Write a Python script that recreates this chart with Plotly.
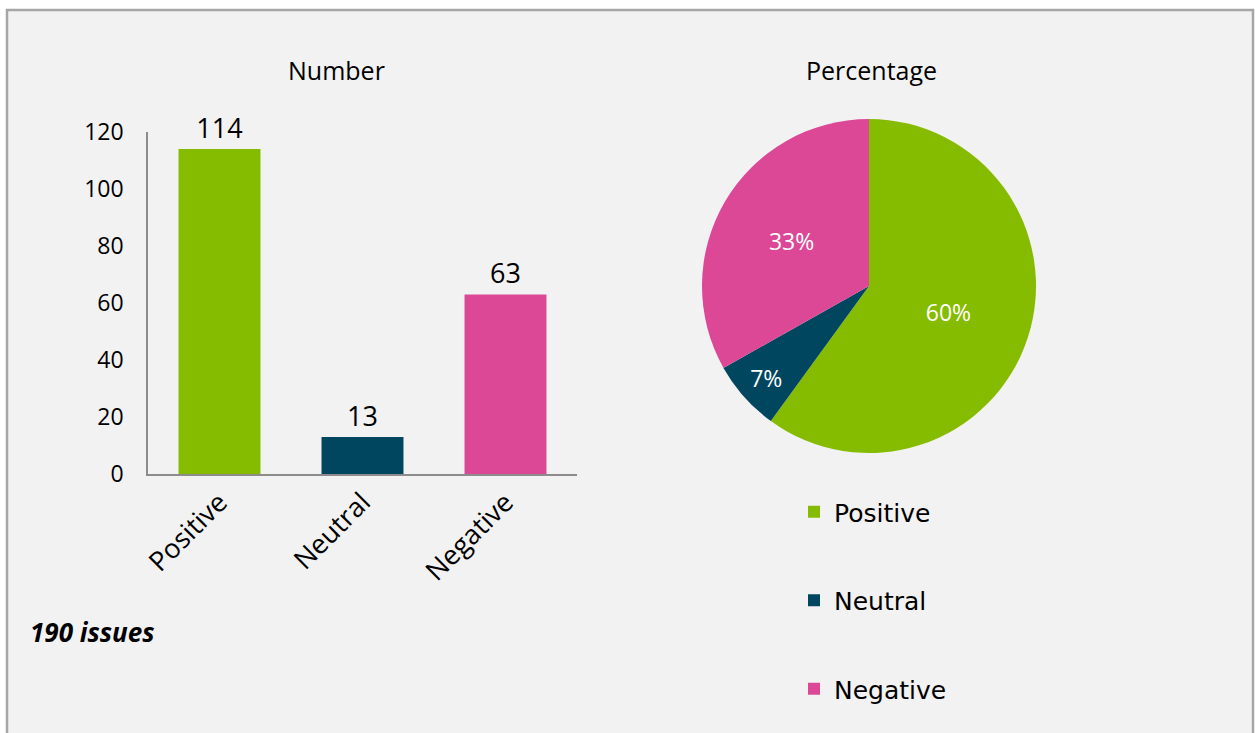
import plotly.graph_objects as go

categories = ["Positive", "Neutral", "Negative"]
counts = [114, 13, 63]
colors = ["#86BC00", "#00465F", "#DC4896"]
y_ticks = [0, 20, 40, 60, 80, 100, 120]
total_label = "190 issues"

W, H = 1255, 733
def px(x):
    return x / W
def py(y):
    return 1 - y / H

fig = go.Figure()

for cat, val, col in zip(categories, counts, colors):
    fig.add_trace(go.Bar(
        x=[cat], y=[val], name=cat, marker=dict(color=col, line=dict(width=0)),
        text=[str(val)], textposition="outside", cliponaxis=False,
        textfont=dict(family="Open Sans", size=27, color="#000000"),
        legendgroup=cat, showlegend=True, width=0.573,
        xaxis="x", yaxis="y",
    ))

fig.add_trace(go.Pie(
    labels=categories, values=counts, marker=dict(colors=colors, line=dict(width=0)),
    sort=False, direction="clockwise", rotation=0,
    texttemplate="%{percent:.0%}", textposition="inside", insidetextorientation="horizontal",
    textfont=dict(family="Open Sans", size=23, color="#FFFFFF"),
    showlegend=False, hoverinfo="label+value+percent",
    domain=dict(x=[px(702), px(1036)], y=[py(453), py(119)]),
))

fig.update_layout(
    width=W, height=H,
    margin=dict(l=0, r=0, t=0, b=0, autoexpand=False),
    paper_bgcolor="#FFFFFF",
    plot_bgcolor="rgba(0,0,0,0)",
    barmode="overlay",
    showlegend=True,
    legend=dict(
        x=px(794), y=py(489), xanchor="left", yanchor="top",
        traceorder="grouped", tracegroupgap=53,
        font=dict(family="DejaVu Sans", size=25, color="#000000"),
        bgcolor="rgba(0,0,0,0)",
    ),
    xaxis=dict(
        domain=[px(148), px(577)], anchor="y",
        showline=True, linecolor="#8C8C8C", linewidth=1.5,
        showgrid=False, zeroline=False, ticks="",
        tickangle=-45, tickfont=dict(family="Open Sans", size=27, color="#000000"),
        categoryorder="array", categoryarray=categories,
    ),
    yaxis=dict(
        domain=[py(474), py(132)], anchor="x",
        range=[0, 120], tickvals=y_ticks,
        showline=True, linecolor="#8C8C8C", linewidth=1.5,
        showgrid=False, zeroline=False, ticks="",
        ticklabelstandoff=18,
        tickfont=dict(family="Open Sans", size=23, color="#000000"),
    ),
    shapes=[dict(
        type="rect", xref="paper", yref="paper",
        x0=px(7), x1=px(1253), y0=py(745), y1=py(10),
        fillcolor="#F2F2F2", line=dict(color="#A6A6A6", width=2.5), layer="below",
    )],
    annotations=[
        dict(text="Number", x=px(337), y=py(70), xref="paper", yref="paper",
             xanchor="center", yanchor="middle",
             showarrow=False, font=dict(family="Open Sans", size=25, color="#000000")),
        dict(text="Percentage", x=px(871), y=py(70), xref="paper", yref="paper",
             xanchor="center", yanchor="middle",
             showarrow=False, font=dict(family="Open Sans", size=25, color="#000000")),
        dict(text="<b><i>" + total_label + "</i></b>", x=px(28), y=py(632), xref="paper", yref="paper",
             xanchor="left", yanchor="middle", showarrow=False,
             font=dict(family="Open Sans", size=26, color="#000000")),
    ],
)

fig.write_html("out.html")
